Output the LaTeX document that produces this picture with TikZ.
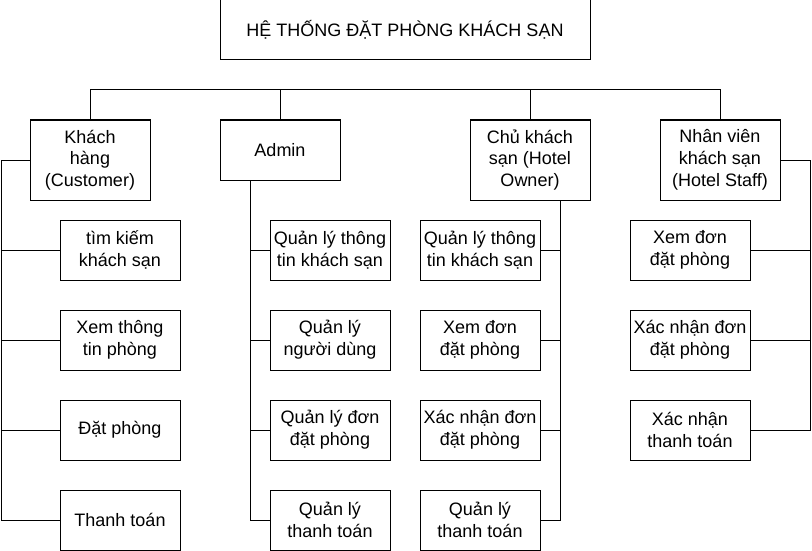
\documentclass[tikz,border=0pt]{standalone}
\usepackage{fontspec}
\setmainfont{Liberation Sans}
\usetikzlibrary{calc}

\begin{document}
\begin{tikzpicture}[x=1pt, y=-1pt,
	box/.style={draw, line width=1pt, minimum width=120pt, minimum height=60pt, inner sep=0pt, align=center, font=\fontsize{18}{21.7}\selectfont},
	tallbox/.style={box, minimum height=80pt},
	link/.style={line width=1pt}]

% Frame of the picture.

	\useasboundingbox (0,0) rectangle (812,551);

% Define coordinates.

	%bus and spines
	\coordinate (bus) at (405, 90);
	\coordinate (custSpine) at (1, 0);
	\coordinate (adminSpine) at (250.5, 0);
	\coordinate (ownerSpine) at (560.5, 0);
	\coordinate (staffSpine) at (810, 0);

% Draw boxes.

	\node[box, minimum width=370pt] (title) at (405, 30) {HỆ THỐNG ĐẶT PHÒNG KHÁCH SẠN};

	\node[tallbox] (cust) at (90, 160) {Khách\\hàng\\(Customer)};
	\node[box] (admin) at (280, 150) {Admin};
	\node[tallbox] (owner) at (530, 160) {Chủ khách\\sạn (Hotel\\Owner)};
	\node[tallbox] (staff) at (720, 160) {Nhân viên\\khách sạn\\(Hotel Staff)};

	%customer
	\node[box] (cust1) at (120, 250) {tìm kiếm\\khách sạn};
	\node[box] (cust2) at (120, 340) {Xem thông\\tin phòng};
	\node[box] (cust3) at (120, 430) {Đặt phòng};
	\node[box] (cust4) at (120, 520) {Thanh toán};

	%admin
	\node[box] (admin1) at (330, 250) {Quản lý thông\\tin khách sạn};
	\node[box] (admin2) at (330, 340) {Quản lý\\người dùng};
	\node[box] (admin3) at (330, 430) {Quản lý đơn\\đặt phòng};
	\node[box] (admin4) at (330, 520) {Quản lý\\thanh toán};

	%hotel owner
	\node[box] (owner1) at (480, 250) {Quản lý thông\\tin khách sạn};
	\node[box] (owner2) at (480, 340) {Xem đơn\\đặt phòng};
	\node[box] (owner3) at (480, 430) {Xác nhận đơn\\đặt phòng};
	\node[box] (owner4) at (480, 520) {Quản lý\\thanh toán};

	%hotel staff
	\node[box] (staff1) at (690, 250) {Xem đơn\\đặt phòng};
	\node[box] (staff2) at (690, 340) {Xác nhận đơn\\đặt phòng};
	\node[box] (staff3) at (690, 430) {Xác nhận\\thanh toán};

% Draw links.

	\draw[link] (cust.north) -- (cust.north |- bus) -- (staff.north |- bus) -- (staff.north);
	\draw[link] (admin.north) -- (admin.north |- bus);
	\draw[link] (owner.north) -- (owner.north |- bus);

	\draw[link] (cust.west) -- (cust.west -| custSpine) -- (cust4.west -| custSpine) -- (cust4.west);
	\foreach \i in {1,2,3}
		\draw[link] (cust\i.west -| custSpine) -- (cust\i.west);

	\draw[link] (adminSpine |- admin.south) -- (admin4.west -| adminSpine) -- (admin4.west);
	\foreach \i in {1,2,3}
		\draw[link] (admin\i.west -| adminSpine) -- (admin\i.west);

	\draw[link] (ownerSpine |- owner.south) -- (owner4.east -| ownerSpine) -- (owner4.east);
	\foreach \i in {1,2,3}
		\draw[link] (owner\i.east -| ownerSpine) -- (owner\i.east);

	\draw[link] (staff.east) -- (staff.east -| staffSpine) -- (staff3.east -| staffSpine) -- (staff3.east);
	\foreach \i in {1,2}
		\draw[link] (staff\i.east -| staffSpine) -- (staff\i.east);

\end{tikzpicture}
\end{document}
